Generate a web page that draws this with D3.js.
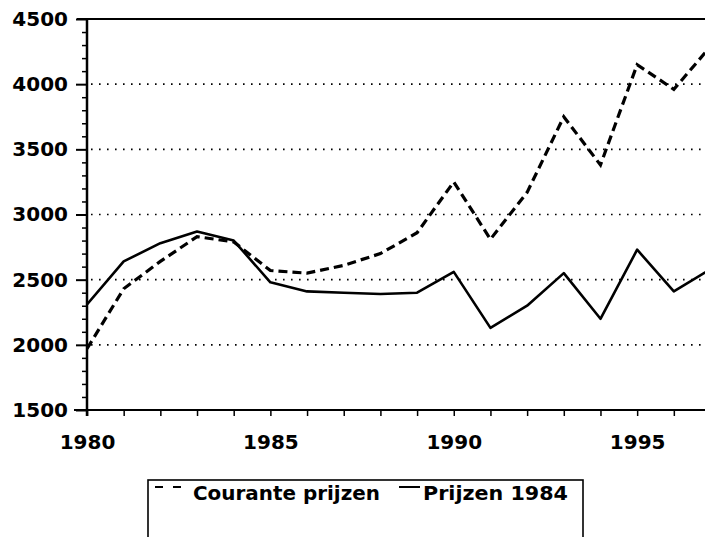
<!DOCTYPE html>
<html>
<head>
<meta charset="utf-8">
<script src="https://cdn.jsdelivr.net/npm/d3@7"></script>
<style>
  html, body { margin: 0; padding: 0; background: #fff; }
  svg { display: block; }
  text { font-family: "DejaVu Sans", "Liberation Sans", Arial, sans-serif; font-weight: bold; fill: #000; }
</style>
</head>
<body>
<svg id="chart" width="705" height="537"></svg>
<script>
// Jaarreeks en waarden
const years = [1980, 1981, 1982, 1983, 1984, 1985, 1986, 1987, 1988, 1989,
               1990, 1991, 1992, 1993, 1994, 1995, 1996, 1997];
const courantePrijzen = [1970, 2430, 2640, 2830, 2790, 2570, 2550, 2610, 2700, 2860,
                         3250, 2810, 3170, 3750, 3380, 4150, 3960, 4290];
const prijzen1984 = [2310, 2640, 2780, 2870, 2800, 2480, 2410, 2400, 2390, 2400,
                     2560, 2130, 2300, 2550, 2200, 2730, 2410, 2580];

// As-labels
const xTickLabels = [1980, 1985, 1990, 1995];
const yTickLabels = [1500, 2000, 2500, 3000, 3500, 4000, 4500];
const gridValues = [2000, 2500, 3000, 3500, 4000];
const legendLabels = ["Courante prijzen", "Prijzen 1984"];

const FONT = "DejaVu Sans, Liberation Sans, Arial, sans-serif";
const svg = d3.select("#chart");
const plotLeft = 87, plotRight = 705, plotTop = 19, plotBottom = 410;

const x = d3.scaleLinear().domain([1980, 1996.85]).range([plotLeft, plotRight]);
const y = d3.scaleLinear().domain([1500, 4500]).range([plotBottom, plotTop]);

// Stippellijnen
svg.append("g")
  .selectAll("line")
  .data(gridValues)
  .join("line")
  .attr("x1", plotLeft + 4).attr("x2", plotRight)
  .attr("y1", d => y(d)).attr("y2", d => y(d))
  .attr("stroke", "#000")
  .attr("stroke-width", 1.6)
  .attr("stroke-dasharray", "1.6,6.4");

// Bovenrand
svg.append("line")
  .attr("x1", plotLeft - 10).attr("x2", plotRight)
  .attr("y1", plotTop).attr("y2", plotTop)
  .attr("stroke", "#000").attr("stroke-width", 2);

// Y-as: hoofdstreepjes met labels
const yAxis = svg.append("g")
  .attr("transform", `translate(${plotLeft},0)`)
  .call(d3.axisLeft(y).tickValues(yTickLabels).tickSize(11).tickPadding(8).tickFormat(d3.format("d")));
yAxis.select(".domain").remove();
yAxis.selectAll(".tick line").attr("stroke-width", 2);
yAxis.selectAll(".tick text")
  .attr("font-size", 20).attr("font-family", FONT).attr("font-weight", "bold");

// Y-as: tussenstreepjes per 100
const yMinor = svg.append("g")
  .attr("transform", `translate(${plotLeft},0)`)
  .call(d3.axisLeft(y).tickValues(d3.range(1600, 4500, 100).filter(v => v % 500 !== 0)).tickSize(5).tickFormat(""));
yMinor.select(".domain").remove();
yMinor.selectAll(".tick line").attr("stroke-width", 1.5);

svg.append("line")
  .attr("x1", plotLeft).attr("x2", plotLeft)
  .attr("y1", plotTop).attr("y2", plotBottom + 6)
  .attr("stroke", "#000").attr("stroke-width", 2.5);

// X-as: streepje per jaar, labels per vijf jaar
const xAxis = svg.append("g")
  .attr("transform", `translate(0,${plotBottom})`)
  .call(d3.axisBottom(x).tickValues(years.filter(v => v <= 1996)).tickSize(6).tickPadding(19)
    .tickFormat(d => xTickLabels.includes(d) ? String(d) : ""));
xAxis.select(".domain").remove();
xAxis.selectAll(".tick line").attr("stroke-width", 1.5);
xAxis.selectAll(".tick text")
  .attr("font-size", 20).attr("font-family", FONT).attr("font-weight", "bold");

svg.append("line")
  .attr("x1", plotLeft - 13).attr("x2", plotRight)
  .attr("y1", plotBottom).attr("y2", plotBottom)
  .attr("stroke", "#000").attr("stroke-width", 2);

// Lijnen
svg.append("clipPath").attr("id", "plotClip")
  .append("rect").attr("x", plotLeft).attr("y", plotTop)
  .attr("width", plotRight - plotLeft).attr("height", plotBottom - plotTop);

const line = d3.line().x((d, i) => x(years[i])).y(d => y(d));

const plot = svg.append("g").attr("clip-path", "url(#plotClip)");
plot.append("path")
  .datum(prijzen1984)
  .attr("d", line)
  .attr("fill", "none").attr("stroke", "#000")
  .attr("stroke-width", 2.6).attr("stroke-linejoin", "round");
plot.append("path")
  .datum(courantePrijzen)
  .attr("d", line)
  .attr("fill", "none").attr("stroke", "#000")
  .attr("stroke-width", 3.2).attr("stroke-dasharray", "9,5");

// Legenda
const lg = svg.append("g");
lg.append("rect")
  .attr("x", 148).attr("y", 480).attr("width", 435).attr("height", 80)
  .attr("fill", "none").attr("stroke", "#000").attr("stroke-width", 1.6);
const baseY = 500;
lg.append("line")
  .attr("x1", 155).attr("x2", 182).attr("y1", baseY - 13).attr("y2", baseY - 13)
  .attr("stroke", "#000").attr("stroke-width", 2).attr("stroke-dasharray", "8,10");
lg.append("text")
  .attr("x", 193).attr("y", baseY)
  .attr("font-size", 20).attr("font-family", FONT)
  .attr("textLength", 187).attr("lengthAdjust", "spacingAndGlyphs")
  .text(legendLabels[0]);
lg.append("line")
  .attr("x1", 399).attr("x2", 420).attr("y1", baseY - 13).attr("y2", baseY - 13)
  .attr("stroke", "#000").attr("stroke-width", 2);
lg.append("text")
  .attr("x", 423).attr("y", baseY)
  .attr("font-size", 20).attr("font-family", FONT)
  .attr("textLength", 145).attr("lengthAdjust", "spacingAndGlyphs")
  .text(legendLabels[1]);
</script>
</body>
</html>
